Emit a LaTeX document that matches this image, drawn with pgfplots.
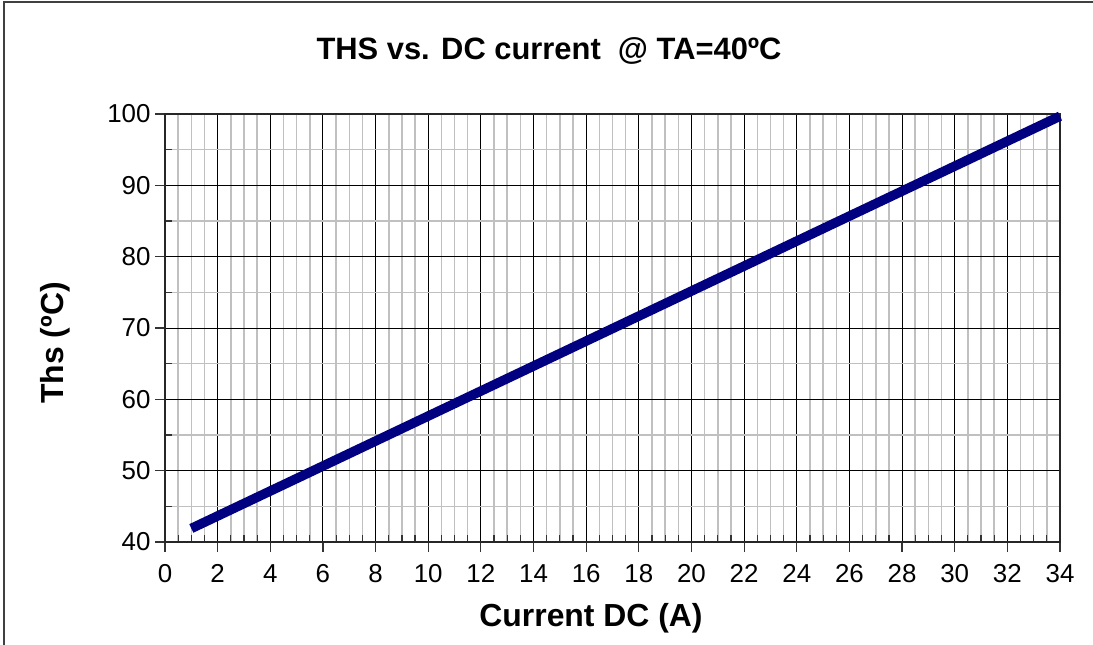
\documentclass[border=0pt]{standalone}
\usepackage{fontspec}
\setmainfont{Liberation Sans}
\usepackage{pgfplots}
\pgfplotsset{compat=1.18}
\definecolor{navyline}{RGB}{0,0,128}
\definecolor{minorgray}{RGB}{192,192,192}
\begin{document}
\begin{tikzpicture}[x=1bp,y=1bp]
\path[use as bounding box] (0,0) rectangle (1093,-645);
\draw[black!75, line width=1.5bp] (4,-645) -- (4,-2) -- (1093,-2);
\begin{axis}[
  at={(165bp,-542bp)}, anchor=south west,
  scale only axis, width=895bp, height=428bp,
  xmin=0, xmax=34, ymin=40, ymax=100,
  xtick={0,2,...,34}, ytick={40,50,...,100},
  minor x tick num=3, minor y tick num=1,
  grid=both,
  major grid style={black, line width=1bp},
  minor grid style={minorgray, line width=1.5bp},
  axis line style={black!85, line width=2bp},
  tick align=outside,
  major tick length=10bp, minor tick length=-7bp,
  major tick style={black!80, line width=1.2bp},
  minor tick style={black!80, line width=1.2bp},
  xtick pos=bottom, ytick pos=left,
  tick label style={font=\fontsize{26}{30}\selectfont},
  /pgf/number format/assume math mode=true,
  xticklabel style={yshift=-9bp},
  yticklabel style={xshift=-1bp},
  title={\textbf{THS vs. DC current\ \ @ TA=40ºC}},
  title style={font=\fontsize{31}{36}\selectfont, anchor=center, at={(axis description cs:0.4291,1.134)}},
  xlabel={\textbf{Current DC (A)}},
  ylabel={\textbf{Ths (ºC)}},
  label style={font=\fontsize{32}{36}\selectfont},
  xlabel style={anchor=center, at={(axis description cs:0.476,-0.1776)}},
  ylabel style={anchor=center, rotate=0, at={(axis description cs:-0.1229,0.465)}},
  clip=false,
]
\addplot[navyline, line width=9.5bp, line cap=butt] coordinates {
 (1,41.9) (5,48.9) (10,57.66) (15,66.42) (20,75.18) (25,83.94) (30,92.69) (34,99.7)
};
\end{axis}
\end{tikzpicture}
\end{document}
